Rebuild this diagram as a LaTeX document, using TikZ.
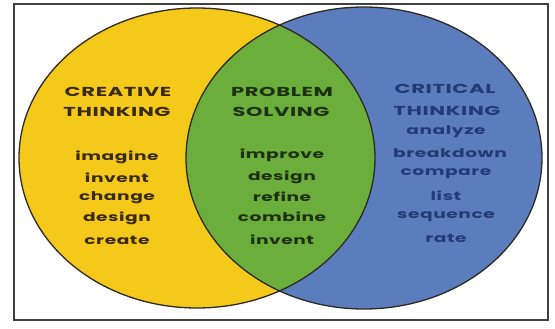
\documentclass[tikz,border=0pt]{standalone}
\usepackage{fontspec}
\newfontfamily\vfont[LetterSpace=3]{Poppins Bold}
\newcommand\capw[1]{\scalebox{1.62}[1]{#1}}
\newcommand\loww[1]{\scalebox{1.55}[1]{#1}}
\definecolor{cyellow}{HTML}{F4C91A}
\definecolor{cgreen}{HTML}{6BAE3B}
\definecolor{cblue}{HTML}{5B7DBE}
\definecolor{tyellow}{HTML}{3A2A10}
\definecolor{tgreen}{HTML}{1E3012}
\definecolor{tblue}{HTML}{233A78}
\definecolor{edge}{HTML}{2E2A22}
\begin{document}
\begin{tikzpicture}[x=1pt,y=-1pt,
  lbl/.style={font=\vfont\fontsize{13}{20}\selectfont,align=center,inner sep=0pt},
  wrd/.style={font=\vfont\fontsize{12}{20}\selectfont,align=center,inner sep=0pt}]
\useasboundingbox (0,0) rectangle (555,329);
\fill[white] (0,0) rectangle (555,329);
\node[draw=black!75,line width=1.6pt,minimum width=534pt,minimum height=316pt,inner sep=0pt] (frame) at (281,162) {};
\fill[cyellow] (197,158) ellipse [x radius=178,y radius=150];
\fill[cblue] (364,158) ellipse [x radius=178,y radius=151];
\begin{scope}
\clip (197,158) ellipse [x radius=178,y radius=150];
\fill[cgreen] (364,158) ellipse [x radius=178,y radius=151];
\end{scope}
\draw[edge,line width=1.3pt] (197,158) ellipse [x radius=178,y radius=150];
\draw[edge,line width=1.3pt] (364,158) ellipse [x radius=178,y radius=151];
% yellow
\node[lbl,text=tyellow] (ct1) at (118,92) {\capw{CREATIVE}};
\node[lbl,text=tyellow] (ct2) at (117,112) {\capw{THINKING}};
\node[wrd,text=tyellow] (y1) at (117,157) {\loww{imagine}};
\node[wrd,text=tyellow] (y2) at (117,178) {\loww{invent}};
\node[wrd,text=tyellow] (y3) at (117,198) {\loww{change}};
\node[wrd,text=tyellow] (y4) at (117,218) {\loww{design}};
\node[wrd,text=tyellow] (y5) at (117,240) {\loww{create}};
% green
\node[lbl,text=tgreen] (pt1) at (282,92) {\capw{PROBLEM}};
\node[lbl,text=tgreen] (pt2) at (281,112) {\capw{SOLVING}};
\node[wrd,text=tgreen] (g1) at (282,155) {\loww{improve}};
\node[wrd,text=tgreen] (g2) at (282,177) {\loww{design}};
\node[wrd,text=tgreen] (g3) at (282,197) {\loww{refine}};
\node[wrd,text=tgreen] (g4) at (282,217) {\loww{combine}};
\node[wrd,text=tgreen] (g5) at (282,240) {\loww{invent}};
% blue
\node[lbl,text=tblue] (bt1) at (445,89) {\capw{CRITICAL}};
\node[lbl,text=tblue] (bt2) at (447,111) {\capw{THINKING}};
\node[wrd,text=tblue] (b1) at (446,132) {\loww{analyze}};
\node[wrd,text=tblue] (b2) at (450,153) {\loww{breakdown}};
\node[wrd,text=tblue] (b3) at (446,174) {\loww{compare}};
\node[wrd,text=tblue] (b4) at (446,196) {\loww{list}};
\node[wrd,text=tblue] (b5) at (446,217) {\loww{sequence}};
\node[wrd,text=tblue] (b6) at (446,238) {\loww{rate}};
\end{tikzpicture}
\end{document}
